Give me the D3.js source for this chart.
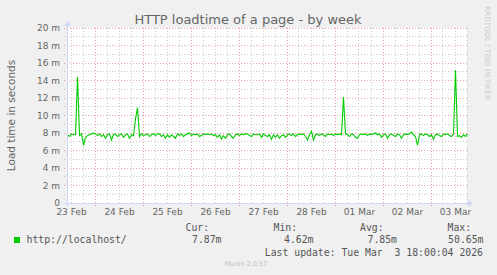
<!DOCTYPE html>
<html><head><meta charset="utf-8">
<script src="https://cdn.jsdelivr.net/npm/d3@7"></script>
<style>
html,body{margin:0;padding:0;background:#F0F0F0;}
svg{display:block;}
text{font-family:"DejaVu Sans",sans-serif;}
.mono{font-family:"DejaVu Sans Mono",monospace;}
</style></head><body>
<svg id="c" width="497" height="275"></svg>
<script>
// ---- data ----
const title = "HTTP loadtime of a page - by week";
const yLabel = "Load time in seconds";
const seriesName = "http://localhost/";
const startTime = Date.UTC(2026, 1, 23, 10, 0, 0);
const endTime = Date.UTC(2026, 2, 3, 18, 0, 0);
const stepHours = 1;
// load time in milliseconds, one value per hour
const loadTimes = [
 7.8,7.6,7.9,7.8,7.8,14.4,7.7,7.9,6.6,7.5,
 7.7,7.8,7.9,8.0,7.9,7.7,7.9,7.6,7.8,7.4,
 7.8,7.9,7.2,7.8,7.9,7.6,7.8,7.9,7.5,7.8,
 7.9,7.4,7.8,7.7,9.6,10.9,7.6,7.9,7.7,7.8,
 7.9,7.6,7.8,7.9,7.7,7.9,7.9,7.6,7.8,7.4,
 7.8,7.5,7.8,7.6,7.4,7.9,7.7,7.9,7.6,7.8,
 7.9,8.0,7.7,7.9,7.8,7.9,7.6,7.7,7.9,7.8,
 7.9,7.8,7.9,7.7,7.8,7.5,7.8,7.3,7.7,7.4,
 7.8,7.9,7.6,7.4,7.8,7.9,7.7,7.9,7.8,7.9,
 7.9,7.7,7.6,7.9,7.8,7.8,7.9,7.5,7.9,7.7,
 7.6,7.8,7.3,7.8,7.5,7.8,7.4,7.7,7.8,7.5,
 7.8,7.9,7.7,7.9,7.6,7.8,7.9,7.8,7.9,7.6,
 7.2,7.8,8.2,7.2,7.8,7.9,7.7,7.9,7.8,7.6,
 7.9,7.8,7.9,7.7,7.9,7.8,7.9,7.8,12.1,7.9,
 7.8,7.6,7.9,7.8,7.5,7.4,7.8,7.9,7.8,7.9,
 7.7,7.9,7.8,7.9,8.0,7.8,7.9,7.5,7.8,7.9,
 7.4,7.8,7.9,7.7,7.6,7.9,7.8,7.4,7.8,7.9,
 7.8,7.9,8.1,7.8,7.6,6.6,7.8,7.9,7.7,7.9,
 7.8,7.6,7.8,7.3,7.8,7.9,7.7,7.6,7.9,7.8,
 7.9,7.7,7.6,7.9,15.2,7.6,7.7,7.5,7.8,7.6,
 7.9
];
const yTicks = [0,2,4,6,8,10,12,14,16,18,20];
const yMinorTicks = [1,3,5,7,9,11,13,15,17,19];
const legendHeaders = ["Cur:","Min:","Avg:","Max:"];
const legendValues = ["7.87m","4.62m","7.85m","50.65m"];
const lastUpdate = "Last update: Tue Mar  3 18:00:04 2026";
const credit = "Munin 2.0.57";
const watermark = "RRDTOOL / TOBI OETIKER";

// ---- layout ----
const L = 67, R = 467, T = 28, B = 203;
const svg = d3.select("#c");
svg.append("rect").attr("width",497).attr("height",275).attr("fill","#F0F0F0");
svg.append("rect").attr("x",L).attr("y",T).attr("width",R-L).attr("height",B-T).attr("fill","#FFFFFF");

const x = d3.scaleUtc().domain([new Date(startTime), new Date(endTime)]).range([L, R]);
const y = d3.scaleLinear().domain([0, 20]).range([B, T]);
const crisp = v => Math.floor(v) + 0.5;

const minorCol = "#C8C8C8", majorCol = "#E8A0A0";
const grid = svg.append("g");
// minor vertical (6h)
x.ticks(d3.utcHour.every(6)).filter(d => d.getUTCHours() !== 0).forEach(d => {
  const xx = crisp(x(d));
  grid.append("line").attr("x1",xx).attr("x2",xx).attr("y1",T).attr("y2",B+2)
    .attr("stroke",minorCol).attr("stroke-dasharray","1,2");
});
// minor horizontal
yMinorTicks.forEach(v => {
  const yy = crisp(y(v));
  grid.append("line").attr("x1",L-3).attr("x2",R).attr("y1",yy).attr("y2",yy)
    .attr("stroke",minorCol).attr("stroke-dasharray","1,2");
});
// major horizontal
yTicks.forEach(v => {
  const yy = crisp(y(v));
  grid.append("line").attr("x1",L-3).attr("x2",R).attr("y1",yy).attr("y2",yy)
    .attr("stroke",majorCol).attr("stroke-dasharray","1,2");
});
// major vertical (midnight)
x.ticks(d3.utcDay.every(1)).forEach(d => {
  const xx = crisp(x(d));
  grid.append("line").attr("x1",xx).attr("x2",xx).attr("y1",T).attr("y2",B+3)
    .attr("stroke",majorCol).attr("stroke-dasharray","1,2");
});

// y tick labels
yTicks.forEach(v => {
  svg.append("text").attr("x",60).attr("y",y(v)+3.3).attr("text-anchor","end")
    .attr("font-size","9px").attr("fill","#666666").text(v === 0 ? "0" : v + " m");
});
// x tick labels at noon
const fmt = d3.utcFormat("%d %b");
d3.utcDay.range(d3.utcDay.floor(new Date(startTime)), new Date(endTime)).forEach(d => {
  const noon = d3.utcHour.offset(d, 12);
  if (noon < startTime || noon > endTime) return;
  svg.append("text").attr("x",x(noon)+0.5).attr("y",215).attr("text-anchor","middle")
    .attr("font-size","9px").attr("fill","#666666").text(fmt(noon));
});

// data line
const data = loadTimes.map((v,i) => ({t: new Date(startTime + i*stepHours*3600000), v}));
svg.append("path").datum(data)
  .attr("d", d3.line().x(d => x(d.t) + 0.5).y(d => y(d.v)))
  .attr("fill","none").attr("stroke","#00CC00").attr("stroke-width",1.1);

// axes
const axisCol = "#CFD6F8";
svg.append("line").attr("x1",L-3).attr("x2",R+2).attr("y1",B+0.5).attr("y2",B+0.5).attr("stroke",axisCol);
svg.append("line").attr("x1",L+0.5).attr("x2",L+0.5).attr("y1",B+3).attr("y2",T-3).attr("stroke",axisCol);
svg.append("path").attr("d",`M${R+1},${B-3} L${R+6},${B+0.5} L${R+1},${B+4} Z`).attr("fill",axisCol);
svg.append("path").attr("d",`M${L-3},${T-2} L${L+0.5},${T-7} L${L+4},${T-2} Z`).attr("fill",axisCol);

// title
svg.append("text").attr("x",248).attr("y",24).attr("text-anchor","middle")
  .attr("font-size","13px").attr("fill","#666666").text(title);
// y axis title
svg.append("text").attr("transform","translate(14.5,115.5) rotate(-90)").attr("text-anchor","middle")
  .attr("font-size","10.5px").attr("fill","#666666").text(yLabel);
// watermark
svg.append("text").attr("transform","translate(485,53) rotate(90)").attr("text-anchor","middle")
  .attr("font-size","7.3px").attr("fill","#CCCCCC").text(watermark);

// legend
svg.append("rect").attr("x",14).attr("y",237).attr("width",6).attr("height",6).attr("fill","#00CC00");
svg.append("text").attr("class","mono").attr("x",26.5).attr("y",243).attr("font-size","9.8px").attr("fill","#555").text(seriesName);
const headerX = [185.5, 273.5, 360, 447.5];
const valueRight = [221.5, 313.5, 397, 483.5];
legendHeaders.forEach((h,i) => {
  svg.append("text").attr("class","mono").attr("x",headerX[i]).attr("y",230.5)
    .attr("font-size","9.8px").attr("fill","#555").text(h);
  svg.append("text").attr("class","mono").attr("x",valueRight[i]).attr("y",243).attr("text-anchor","end")
    .attr("font-size","9.8px").attr("fill","#555").text(legendValues[i]);
});
svg.append("text").attr("class","mono").attr("x",483).attr("y",255.5).attr("text-anchor","end")
  .attr("font-size","9.8px").attr("fill","#555").attr("xml:space","preserve").style("white-space","pre").text(lastUpdate);
svg.append("text").attr("x",246).attr("y",266).attr("text-anchor","middle")
  .attr("font-size","6.5px").attr("fill","#BBBBBB").text(credit);
</script>
</body></html>
